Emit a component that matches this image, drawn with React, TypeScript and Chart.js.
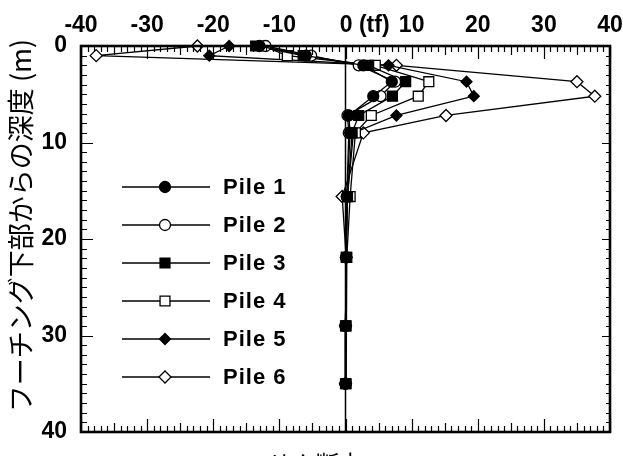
import { useEffect, useRef } from 'react';
import { Chart, registerables } from 'chart.js';

Chart.register(...registerables);

// depth below footing (m)
const depths = [0, 1, 2, 3.7, 5.2, 7.2, 9.0, 15.6, 21.9, 29.0, 35.0];
// shear force (tf)
const pile1 = [-13.0, -6.0, 2.7, 7.0, 4.2, 0.5, 0.7, 0.2, 0.1, 0, 0];
const pile2 = [-12.1, -5.2, 2.0, 7.5, 5.3, 0.3, 0.5, 0.2, 0.1, 0, 0];
const pile3 = [-13.6, -6.4, 3.5, 9.1, 7.1, 2.0, 1.0, 0.3, 0.1, 0, 0];
const pile4 = [-12.5, -8.8, 4.5, 12.6, 11.0, 3.9, 1.5, 0.7, 0.2, 0.1, 0.1];
const pile5 = [-17.6, -20.6, 6.5, 18.3, 19.4, 7.7, 1.2, 0.3, 0.1, 0, 0];
const pile6 = [-22.4, -37.7, 7.7, 35.0, 37.7, 15.2, 2.7, -0.5, 0.1, 0, 0];

const seriesNames = ['Pile 1', 'Pile 2', 'Pile 3', 'Pile 4', 'Pile 5', 'Pile 6'];
const seriesValues = [pile1, pile2, pile3, pile4, pile5, pile6];
const xTickValues = [-40, -30, -20, -10, 0, 10, 20, 30, 40];
const yTickValues = [0, 10, 20, 30, 40];
const yTitle = '\u3000フーチング下部からの深度 (m)';
const xTitle = 'せん断力';

type Marker = { style: 'circle' | 'rect' | 'rectRot'; fill: string; r: number };
const markers: Marker[] = [
  { style: 'circle', fill: '#000', r: 5.5 },
  { style: 'circle', fill: '#fff', r: 5.5 },
  { style: 'rect', fill: '#000', r: 7 },
  { style: 'rect', fill: '#fff', r: 7 },
  { style: 'rectRot', fill: '#000', r: 5.5 },
  { style: 'rectRot', fill: '#fff', r: 6 },
];

function drawMarker(ctx: CanvasRenderingContext2D, m: Marker, x: number, y: number) {
  ctx.beginPath();
  if (m.style === 'circle') {
    ctx.arc(x, y, m.r, 0, Math.PI * 2);
  } else if (m.style === 'rect') {
    const s = Math.SQRT1_2 * m.r;
    ctx.rect(x - s, y - s, 2 * s, 2 * s);
  } else {
    ctx.moveTo(x - m.r, y);
    ctx.lineTo(x, y - m.r);
    ctx.lineTo(x + m.r, y);
    ctx.lineTo(x, y + m.r);
    ctx.closePath();
  }
  ctx.fillStyle = m.fill;
  ctx.fill();
  ctx.lineWidth = 1.3;
  ctx.strokeStyle = '#000';
  ctx.stroke();
}

const framePlugin = {
  id: 'frameTicks',
  beforeDatasetsDraw(chart: any) {
    const { ctx, chartArea } = chart;
    const xs = chart.scales.x;
    const { top, bottom } = chartArea;
    ctx.save();
    ctx.strokeStyle = '#000';
    const x0 = xs.getPixelForValue(0);
    ctx.lineWidth = 1.5;
    ctx.beginPath();
    ctx.moveTo(x0, top);
    ctx.lineTo(x0, bottom);
    ctx.stroke();
    ctx.restore();
  },
  afterDatasetsDraw(chart: any) {
    const { ctx, chartArea } = chart;
    const xs = chart.scales.x;
    const ys = chart.scales.y;
    const { left, right, top, bottom } = chartArea;
    ctx.save();
    ctx.strokeStyle = '#000';
    ctx.lineWidth = 1.2;
    ctx.beginPath();
    for (let v = xs.min; v <= xs.max; v += 1) {
      const px = Math.round(xs.getPixelForValue(v)) + 0.5;
      const len = v % 10 === 0 ? 13 : v % 5 === 0 ? 9 : 6;
      ctx.moveTo(px, top);
      ctx.lineTo(px, top + len);
      ctx.moveTo(px, bottom);
      ctx.lineTo(px, bottom - len);
    }
    for (let d = ys.min; d <= ys.max; d += 1) {
      const py = Math.round(ys.getPixelForValue(d)) + 0.5;
      const len = d % 10 === 0 ? 12 : 6;
      ctx.moveTo(left, py);
      ctx.lineTo(left + len, py);
      ctx.moveTo(right, py);
      ctx.lineTo(right - (d % 10 === 0 ? 8 : 4), py);
    }
    ctx.stroke();
    ctx.lineWidth = 2.6;
    ctx.strokeRect(left, top, right - left, bottom - top);
    ctx.restore();
  },
  afterDraw(chart: any) {
    const { ctx, chartArea } = chart;
    const { left, top } = chartArea;
    ctx.save();
    const lx1 = left + 41;
    const lx2 = left + 129;
    const mx = left + 84;
    const tx = left + 142;
    ctx.font = "bold 22px 'Liberation Sans', Arial, sans-serif";
    ctx.textBaseline = 'middle';
    ctx.textAlign = 'left';
    (ctx as any).letterSpacing = '1px';
    seriesNames.forEach((name, i) => {
      const y = top + 141 + i * 38;
      ctx.beginPath();
      ctx.moveTo(lx1, y);
      ctx.lineTo(lx2, y);
      ctx.lineWidth = 1.3;
      ctx.strokeStyle = '#000';
      ctx.stroke();
      drawMarker(ctx, markers[i], mx, y);
      ctx.fillStyle = '#000';
      ctx.fillText(name, tx, y + 1);
    });
    (ctx as any).letterSpacing = '0px';
    ctx.font = "24px 'Noto Sans CJK JP', sans-serif";
    ctx.textAlign = 'center';
    ctx.textBaseline = 'top';
    ctx.fillText(xTitle, chartArea.left + (chartArea.right - chartArea.left) / 2 - 30, chartArea.bottom + 20);
    ctx.restore();
  },
};

export default function App() {
  const ref = useRef<HTMLCanvasElement | null>(null);
  useEffect(() => {
    if (!ref.current) return;
    const tickFont = { family: "'Liberation Sans', Arial, sans-serif", size: 23, weight: 'bold' as const };
    const chart = new Chart(ref.current, {
      type: 'scatter',
      data: {
        datasets: seriesValues.map((vals, i) => ({
          label: seriesNames[i],
          data: depths.map((d, j) => ({ x: vals[j], y: d })),
          showLine: true,
          borderColor: '#000',
          borderWidth: 1.3,
          pointStyle: markers[i].style,
          pointRadius: markers[i].r,
          pointHoverRadius: markers[i].r,
          pointBackgroundColor: markers[i].fill,
          pointBorderColor: '#000',
          pointBorderWidth: 1.3,
          fill: false,
          tension: 0,
          clip: false as any,
        })),
      },
      options: {
        animation: false,
        responsive: false,
        events: [],
        layout: { padding: { left: 0, right: 13, top: 0, bottom: 24 } },
        plugins: { legend: { display: false }, tooltip: { enabled: false } },
        scales: {
          x: {
            type: 'linear',
            position: 'top',
            min: -40,
            max: 40,
            afterFit: (s: any) => { s.height = 46; },
            afterBuildTicks: (s: any) => { s.ticks = xTickValues.map((v) => ({ value: v })); },
            grid: { display: false },
            border: { display: false },
            ticks: {
              color: '#000',
              font: tickFont,
              padding: -1,
              maxRotation: 0,
              autoSkip: false,
              callback: (v: any) => (v === 0 ? '\u00a0\u00a0\u00a0\u00a0\u00a0\u00a00 (tf)' : String(v)),
            },
          },
          y: {
            type: 'linear',
            position: 'left',
            reverse: true,
            min: 0,
            max: 40,
            afterFit: (s: any) => { s.width = 81; },
            afterBuildTicks: (s: any) => { s.ticks = yTickValues.map((v) => ({ value: v })); },
            grid: { display: false },
            border: { display: false },
            ticks: { color: '#000', font: tickFont, padding: 6, autoSkip: false },
            title: {
              display: true,
              text: yTitle,
              color: '#000',
              font: { family: "'Noto Sans CJK JP', sans-serif", size: 27 },
              padding: { top: 5, bottom: 0 },
            },
          },
        },
      },
      plugins: [framePlugin],
    });
    return () => chart.destroy();
  }, []);
  return (
    <div style={{ position: 'fixed', left: 0, top: 0, width: 623, height: 456, overflow: 'hidden', background: '#fff' }}>
      <canvas ref={ref} width={623} height={456} />
    </div>
  );
}
